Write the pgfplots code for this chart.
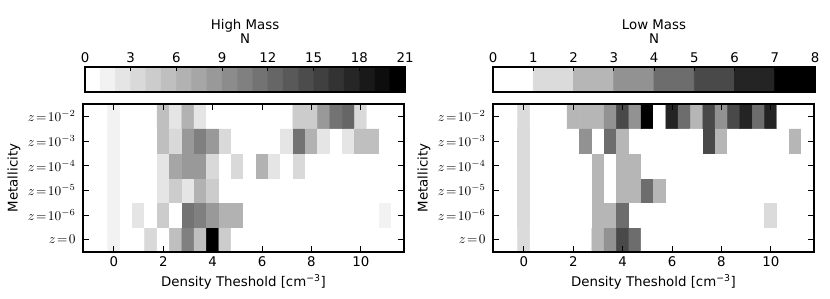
\documentclass[border=0pt]{standalone}
\usepackage{fontspec}
\setmainfont{DejaVu Sans}
\usepackage{pgfplots}
\pgfplotsset{compat=1.18}
\begin{document}
\begin{tikzpicture}
\pgfplotsset{
  hmmap/.style={colormap={hm}{gray(0cm)=(1); gray(1cm)=(0.95); gray(2cm)=(0.9); gray(3cm)=(0.85); gray(4cm)=(0.8); gray(5cm)=(0.75); gray(6cm)=(0.7); gray(7cm)=(0.65); gray(8cm)=(0.6); gray(9cm)=(0.55); gray(10cm)=(0.5); gray(11cm)=(0.45); gray(12cm)=(0.4); gray(13cm)=(0.35); gray(14cm)=(0.3); gray(15cm)=(0.25); gray(16cm)=(0.2); gray(17cm)=(0.15); gray(18cm)=(0.1); gray(19cm)=(0.05); gray(20cm)=(0); gray(21cm)=(0); gray(22cm)=(0)},
    colormap access=piecewise constant, point meta min=-0.5, point meta max=21.5},
  lmmap/.style={colormap={lm}{gray(0cm)=(1); gray(1cm)=(0.857); gray(2cm)=(0.714); gray(3cm)=(0.571); gray(4cm)=(0.429); gray(5cm)=(0.286); gray(6cm)=(0.143); gray(7cm)=(0); gray(8cm)=(0); gray(9cm)=(0)},
    colormap access=piecewise constant, point meta min=-0.5, point meta max=8.5},
  heat/.style={scale only axis, anchor=south west, width=240.75pt, height=111pt,
    xmin=-1.25, xmax=11.75, ymin=-0.5, ymax=5.5,
    xtick={0,2,...,10}, ytick={0,...,5},
    yticklabels={$z\!=\!0$,$z\!=\!10^{-6}$,$z\!=\!10^{-5}$,$z\!=\!10^{-4}$,$z\!=\!10^{-3}$,$z\!=\!10^{-2}$},
    yticklabel style={xshift=-2pt},
    tick align=inside, major tick length=4.25pt,
    axis line style={line width=1.2pt},
    major tick style={black, line width=0.7pt},
    xlabel={Density Theshold [cm\textsuperscript{−3}]},
    ylabel={Metallicity},
    xlabel style={at={(axis description cs:0.5,0)}, anchor=base, yshift=-26pt},
    ylabel style={at={(axis description cs:-0.204,0.5)}, anchor=base},
    axis on top,
    /pgf/number format/assume math mode=true},
  cbar/.style={scale only axis, anchor=south west, height=18.75pt,
    ymin=-0.5, ymax=1.5, ytick=\empty,
    xtick pos=right, xticklabel pos=right,
    tick align=inside, major tick length=3pt,
    axis line style={line width=1.2pt},
    major tick style={black, line width=0.7pt},
    xticklabel style={anchor=base, yshift=3.5pt},
    xlabel={N},
    xlabel style={at={(axis description cs:0.5,1)}, anchor=base, yshift=18pt},
    every axis title/.style={at={(axis description cs:0.5,1)}, anchor=base, yshift=28.5pt},
    axis on top,
    /pgf/number format/assume math mode=true},
}
\useasboundingbox (0,0) rectangle (622.5pt,223.5pt);

% ---------- High Mass heat map ----------
\begin{axis}[heat, hmmap, at={(62.25pt,34.5pt)}]
\addplot[matrix plot*, mesh/cols=24, point meta=explicit] coordinates {
(0,0)[1] (0.5,0)[0] (1,0)[0] (1.5,0)[3] (2,0)[0] (2.5,0)[5] (3,0)[10] (3.5,0)[5] (4,0)[21] (4.5,0)[4] (5,0)[0] (5.5,0)[0] (6,0)[0] (6.5,0)[0] (7,0)[0] (7.5,0)[0] (8,0)[0] (8.5,0)[0] (9,0)[0] (9.5,0)[0] (10,0)[0] (10.5,0)[0] (11,0)[0] (11.5,0)[0]
(0,1)[1] (0.5,1)[0] (1,1)[2] (1.5,1)[0] (2,1)[4] (2.5,1)[0] (3,1)[11] (3.5,1)[10] (4,1)[8] (4.5,1)[6] (5,1)[6] (5.5,1)[0] (6,1)[0] (6.5,1)[0] (7,1)[0] (7.5,1)[0] (8,1)[0] (8.5,1)[0] (9,1)[0] (9.5,1)[0] (10,1)[0] (10.5,1)[0] (11,1)[1] (11.5,1)[0]
(0,2)[1] (0.5,2)[0] (1,2)[0] (1.5,2)[0] (2,2)[2] (2.5,2)[4] (3,2)[2] (3.5,2)[6] (4,2)[4] (4.5,2)[0] (5,2)[0] (5.5,2)[0] (6,2)[0] (6.5,2)[0] (7,2)[0] (7.5,2)[0] (8,2)[0] (8.5,2)[0] (9,2)[0] (9.5,2)[0] (10,2)[0] (10.5,2)[0] (11,2)[0] (11.5,2)[0]
(0,3)[1] (0.5,3)[0] (1,3)[0] (1.5,3)[0] (2,3)[2] (2.5,3)[7] (3,3)[8] (3.5,3)[8] (4,3)[3] (4.5,3)[0] (5,3)[3] (5.5,3)[0] (6,3)[6] (6.5,3)[2] (7,3)[0] (7.5,3)[3] (8,3)[0] (8.5,3)[0] (9,3)[0] (9.5,3)[0] (10,3)[0] (10.5,3)[0] (11,3)[0] (11.5,3)[0]
(0,4)[1] (0.5,4)[0] (1,4)[0] (1.5,4)[0] (2,4)[5] (2.5,4)[3] (3,4)[8] (3.5,4)[10] (4,4)[8] (4.5,4)[3] (5,4)[0] (5.5,4)[0] (6,4)[0] (6.5,4)[0] (7,4)[2] (7.5,4)[11] (8,4)[6] (8.5,4)[2] (9,4)[0] (9.5,4)[2] (10,4)[5] (10.5,4)[5] (11,4)[0] (11.5,4)[0]
(0,5)[1] (0.5,5)[0] (1,5)[0] (1.5,5)[0] (2,5)[5] (2.5,5)[2] (3,5)[6] (3.5,5)[2] (4,5)[0] (4.5,5)[0] (5,5)[0] (5.5,5)[0] (6,5)[0] (6.5,5)[0] (7,5)[0] (7.5,5)[4] (8,5)[4] (8.5,5)[8] (9,5)[11] (9.5,5)[12] (10,5)[3] (10.5,5)[0] (11,5)[0] (11.5,5)[0]
};
\end{axis}

% ---------- Low Mass heat map ----------
\begin{axis}[heat, lmmap, at={(369.75pt,34.5pt)}]
\addplot[matrix plot*, mesh/cols=24, point meta=explicit] coordinates {
(0,0)[1] (0.5,0)[0] (1,0)[0] (1.5,0)[0] (2,0)[0] (2.5,0)[0] (3,0)[2] (3.5,0)[3] (4,0)[5] (4.5,0)[4] (5,0)[0] (5.5,0)[0] (6,0)[0] (6.5,0)[0] (7,0)[0] (7.5,0)[0] (8,0)[0] (8.5,0)[0] (9,0)[0] (9.5,0)[0] (10,0)[0] (10.5,0)[0] (11,0)[0] (11.5,0)[0]
(0,1)[1] (0.5,1)[0] (1,1)[0] (1.5,1)[0] (2,1)[0] (2.5,1)[0] (3,1)[2] (3.5,1)[2] (4,1)[4] (4.5,1)[0] (5,1)[0] (5.5,1)[0] (6,1)[0] (6.5,1)[0] (7,1)[0] (7.5,1)[0] (8,1)[0] (8.5,1)[0] (9,1)[0] (9.5,1)[0] (10,1)[1] (10.5,1)[0] (11,1)[0] (11.5,1)[0]
(0,2)[1] (0.5,2)[0] (1,2)[0] (1.5,2)[0] (2,2)[0] (2.5,2)[0] (3,2)[2] (3.5,2)[0] (4,2)[2] (4.5,2)[2] (5,2)[4] (5.5,2)[2] (6,2)[0] (6.5,2)[0] (7,2)[0] (7.5,2)[0] (8,2)[0] (8.5,2)[0] (9,2)[0] (9.5,2)[0] (10,2)[0] (10.5,2)[0] (11,2)[0] (11.5,2)[0]
(0,3)[1] (0.5,3)[0] (1,3)[0] (1.5,3)[0] (2,3)[0] (2.5,3)[0] (3,3)[2] (3.5,3)[0] (4,3)[2] (4.5,3)[2] (5,3)[0] (5.5,3)[0] (6,3)[0] (6.5,3)[0] (7,3)[0] (7.5,3)[0] (8,3)[0] (8.5,3)[0] (9,3)[0] (9.5,3)[0] (10,3)[0] (10.5,3)[0] (11,3)[0] (11.5,3)[0]
(0,4)[1] (0.5,4)[0] (1,4)[0] (1.5,4)[0] (2,4)[0] (2.5,4)[3] (3,4)[0] (3.5,4)[4] (4,4)[2] (4.5,4)[0] (5,4)[0] (5.5,4)[0] (6,4)[0] (6.5,4)[0] (7,4)[0] (7.5,4)[5] (8,4)[2] (8.5,4)[0] (9,4)[0] (9.5,4)[0] (10,4)[0] (10.5,4)[0] (11,4)[2] (11.5,4)[0]
(0,5)[1] (0.5,5)[0] (1,5)[0] (1.5,5)[0] (2,5)[2] (2.5,5)[2] (3,5)[2] (3.5,5)[3] (4,5)[5] (4.5,5)[3] (5,5)[7] (5.5,5)[0] (6,5)[6] (6.5,5)[4] (7,5)[2] (7.5,5)[5] (8,5)[3] (8.5,5)[5] (9,5)[6] (9.5,5)[4] (10,5)[6] (10.5,5)[0] (11,5)[0] (11.5,5)[0]
};
\end{axis}

% ---------- High Mass colour bar ----------
\begin{axis}[cbar, hmmap, at={(63.75pt,154.5pt)}, width=240pt,
  xmin=0, xmax=21, xtick={0,3,...,21}, title={High Mass}]
\addplot[matrix plot*, mesh/cols=21, point meta=explicit] coordinates {
(0.5,0)[0] (1.5,0)[1] (2.5,0)[2] (3.5,0)[3] (4.5,0)[4] (5.5,0)[5] (6.5,0)[6] (7.5,0)[7] (8.5,0)[8] (9.5,0)[9] (10.5,0)[10] (11.5,0)[11] (12.5,0)[12] (13.5,0)[13] (14.5,0)[14] (15.5,0)[15] (16.5,0)[16] (17.5,0)[17] (18.5,0)[18] (19.5,0)[19] (20.5,0)[20]
(0.5,1)[0] (1.5,1)[1] (2.5,1)[2] (3.5,1)[3] (4.5,1)[4] (5.5,1)[5] (6.5,1)[6] (7.5,1)[7] (8.5,1)[8] (9.5,1)[9] (10.5,1)[10] (11.5,1)[11] (12.5,1)[12] (13.5,1)[13] (14.5,1)[14] (15.5,1)[15] (16.5,1)[16] (17.5,1)[17] (18.5,1)[18] (19.5,1)[19] (20.5,1)[20]
};
\end{axis}

% ---------- Low Mass colour bar ----------
\begin{axis}[cbar, lmmap, at={(369.75pt,154.5pt)}, width=241.5pt,
  xmin=0, xmax=8, xtick={0,...,8}, title={Low Mass}]
\addplot[matrix plot*, mesh/cols=8, point meta=explicit] coordinates {
(0.5,0)[0] (1.5,0)[1] (2.5,0)[2] (3.5,0)[3] (4.5,0)[4] (5.5,0)[5] (6.5,0)[6] (7.5,0)[7]
(0.5,1)[0] (1.5,1)[1] (2.5,1)[2] (3.5,1)[3] (4.5,1)[4] (5.5,1)[5] (6.5,1)[6] (7.5,1)[7]
};
\end{axis}
\end{tikzpicture}
\end{document}
